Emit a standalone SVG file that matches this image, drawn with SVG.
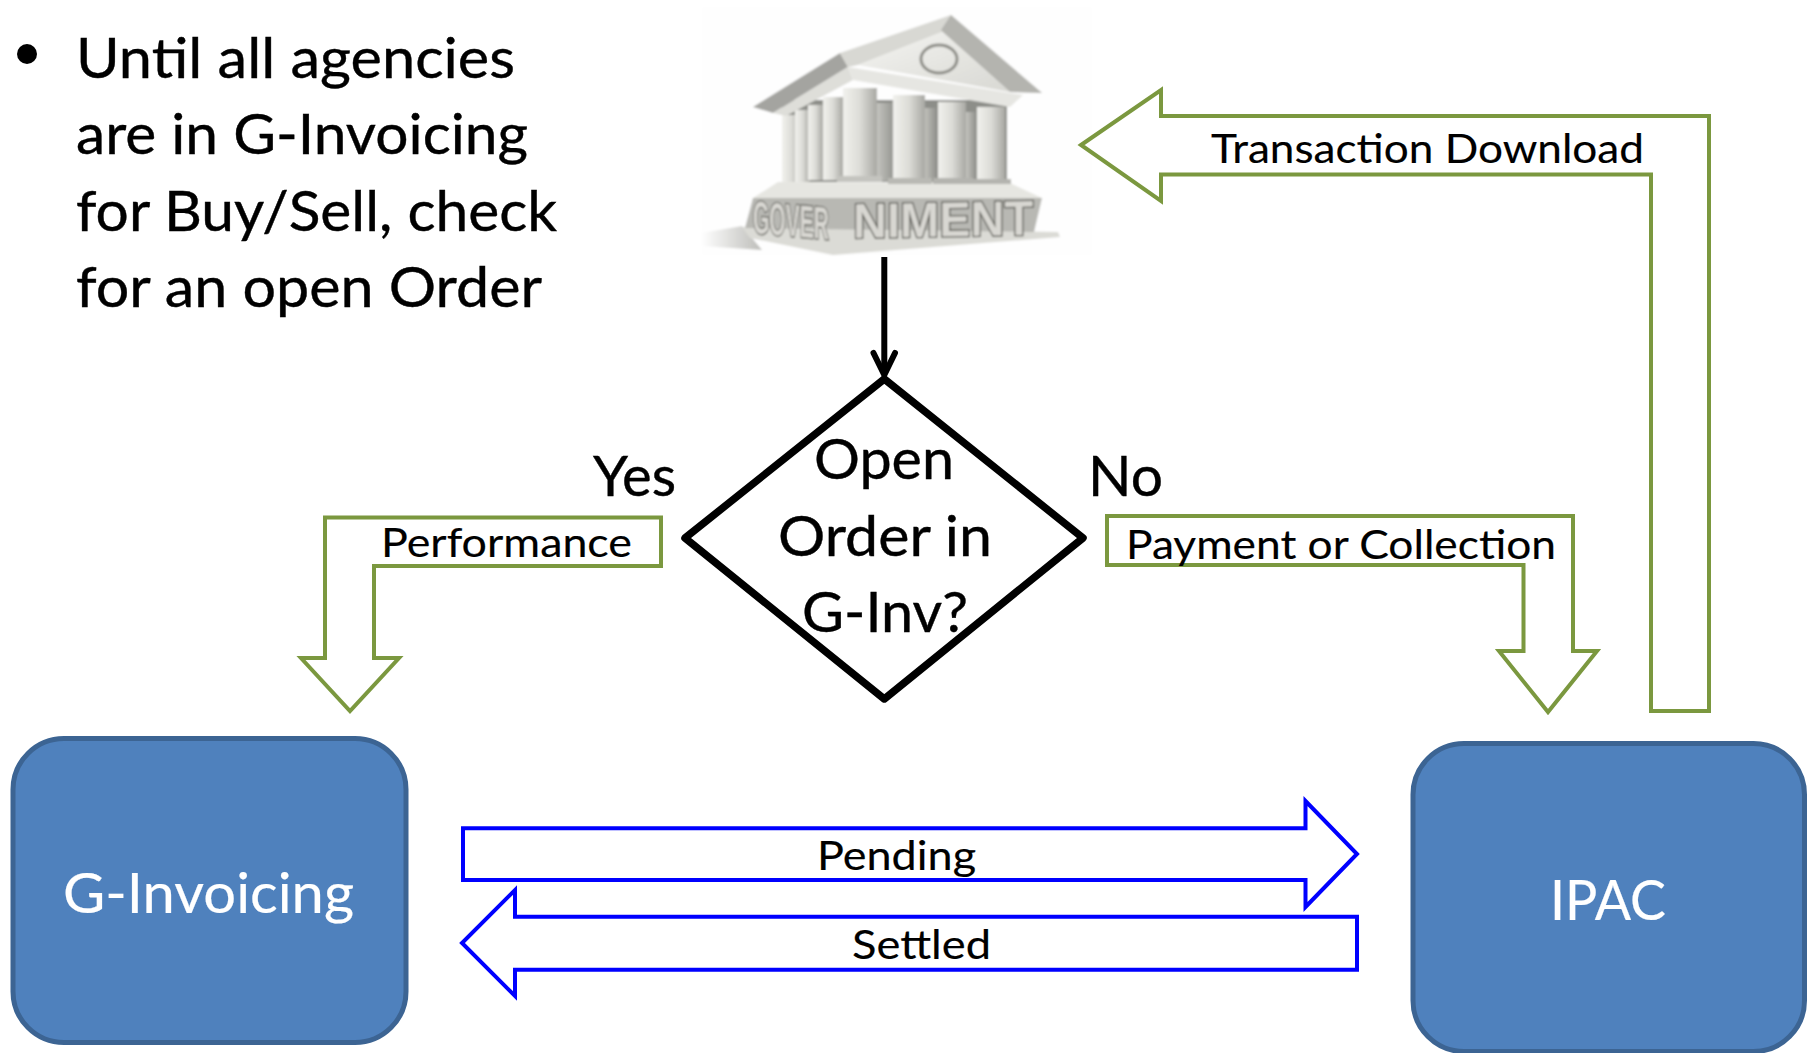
<svg xmlns="http://www.w3.org/2000/svg" width="1815" height="1053" viewBox="0 0 1815 1053">
<style>
text{font-family:"Lato","Liberation Sans",sans-serif;fill:#000;stroke:#000;stroke-width:.4}
.b{font-size:56.5px}
text.s{font-size:41px;stroke-width:.15}
text.w{fill:#fff;stroke:#fff;stroke-width:.2}
.g{fill:#fff;stroke:#7b983f;stroke-width:4}
.u{fill:#fff;stroke:#0000ff;stroke-width:4}
.n{fill:#4f81bd;stroke:#3c6493;stroke-width:5}
text.gv{font-family:"Liberation Sans",sans-serif;font-weight:bold;font-size:50px;fill:#d8d7d2;stroke:#55554f;stroke-width:2.6;paint-order:stroke}
</style>
<defs>
<linearGradient id="col" x1="0" x2="1" y1="0" y2="0"><stop offset="0" stop-color="#f1f1ed"/><stop offset=".5" stop-color="#dcdcd7"/><stop offset="1" stop-color="#a8a8a3"/></linearGradient>
<linearGradient id="cold" x1="0" x2="1" y1="0" y2="0"><stop offset="0" stop-color="#c4c4bf"/><stop offset="1" stop-color="#868782"/></linearGradient>
<linearGradient id="ped" x1="0" x2="1" y1="0" y2="1"><stop offset="0" stop-color="#f4f4f1"/><stop offset="1" stop-color="#d8d8d3"/></linearGradient>
<linearGradient id="sh" x1="0" x2="1" y1="0" y2="0"><stop offset="0" stop-color="#fff"/><stop offset="1" stop-color="#bdbdb9"/></linearGradient>
<filter id="blur"><feGaussianBlur stdDeviation="0.8"/></filter>
</defs>
<rect width="1815" height="1053" fill="#fff"/>

<g id="bullet-text">
<circle cx="27" cy="54" r="10" fill="#000"/>
<text class="b" x="76" y="78" textLength="439" lengthAdjust="spacingAndGlyphs">Until all agencies</text>
<text class="b" x="76" y="154" textLength="452" lengthAdjust="spacingAndGlyphs">are in G-Invoicing</text>
<text class="b" x="76" y="231" textLength="481" lengthAdjust="spacingAndGlyphs">for Buy/Sell, check</text>
<text class="b" x="76" y="307" textLength="466" lengthAdjust="spacingAndGlyphs">for an open Order</text>
</g>

<g id="government" filter="url(#blur)">
<rect x="701" y="6" width="392" height="250" fill="#fefefe"/>
<polygon points="701,233 742,226 762,250 701,246" fill="url(#sh)"/>
<polygon points="742,227 1058,232 1060,237 833,255 750,238" fill="#dbdbd6"/>
<polygon points="753,198 1042,198 1034,232 745,228" fill="#b8b8b3"/>
<polygon points="753,198 778,182 1010,183 1042,198" fill="#e6e6e1"/>
<rect x="782" y="100" width="225" height="82" fill="#8d8e89"/>
<rect x="782" y="115" width="19" height="67" fill="url(#col)"/>
<rect x="795" y="110" width="15" height="72" fill="url(#col)"/>
<rect x="808" y="105" width="15" height="75" fill="url(#col)"/>
<rect x="823" y="97" width="20" height="83" fill="url(#col)"/>
<rect x="877" y="103" width="22" height="78" fill="url(#cold)"/>
<rect x="924" y="108" width="15" height="70" fill="url(#cold)"/>
<rect x="966" y="112" width="12" height="68" fill="url(#cold)"/>
<rect x="843" y="88" width="34" height="92" fill="url(#col)"/>
<rect x="893" y="95" width="32" height="87" fill="url(#col)"/>
<rect x="938" y="102" width="28" height="80" fill="url(#col)"/>
<rect x="977" y="107" width="28" height="76" fill="url(#col)"/>
<rect x="837" y="176" width="45" height="6" fill="#c4c4bf"/>
<rect x="888" y="178" width="44" height="6" fill="#b9b9b4"/>
<rect x="933" y="178" width="40" height="6" fill="#b4b4af"/>
<rect x="973" y="179" width="38" height="5" fill="#b4b4af"/>
<polygon points="753,107 840,53 848,67 773,113" fill="#a4a4a0"/>
<polygon points="773,113 848,67 853,80 786,116" fill="#dedeD9"/>
<polygon points="840,53 951,15 1042,93 1010,92 942,32 858,65 848,67" fill="#d8d8d3"/>
<polygon points="951,15 1042,93 1010,92 941,30" fill="#b4b4af"/>
<polygon points="858,65 942,32 1010,92" fill="url(#ped)"/>
<polygon points="848,67 1023,95 1010,107 853,80" fill="#e6e6e2"/>
<ellipse cx="939" cy="59" rx="18" ry="14" fill="none" stroke="#8e8e88" stroke-width="3"/>
<text class="gv" transform="translate(753,233) skewY(5) scale(.42,.92)">GOVER</text>
<text class="gv" transform="translate(853,238) skewY(-1) scale(.94,.98)">NIMENT</text>
</g>

<g id="connectors">
<line x1="884.3" y1="257" x2="884.3" y2="374" stroke="#000" stroke-width="6"/>
<path d="M873.5,353 L884.3,375 L895,353" fill="none" stroke="#000" stroke-width="6" stroke-linecap="round"/>
<polygon id="transaction-download" class="g" points="1081,145 1161,90 1161,116 1709,116 1709,711 1651,711 1651,174.500 1161,174.500 1161,201"/>
<polygon id="performance" class="g" points="661,517.500 325,517.500 325,658 301,658 350,711 399,658 374,658 374,566 661,566"/>
<polygon id="payment" class="g" points="1107,516 1573,516 1573,651 1597,651 1548,712 1499,651 1523.500,651 1523.500,565 1107,565"/>
<polygon id="pending" class="u" points="463,828.300 1305.500,828.300 1305.500,801 1357,854 1305.500,907 1305.500,880 463,880"/>
<polygon id="settled" class="u" points="1357,916.700 515,916.700 515,890 462,943 515,996 515,969.700 1357,969.700"/>
<text class="s" x="1211" y="163" textLength="433" lengthAdjust="spacingAndGlyphs">Transaction Download</text>
<text class="s" x="381" y="556.500" textLength="251" lengthAdjust="spacingAndGlyphs">Performance</text>
<text class="s" x="1126" y="559" textLength="430" lengthAdjust="spacingAndGlyphs">Payment or Collection</text>
<text class="s" x="817" y="870" textLength="159" lengthAdjust="spacingAndGlyphs">Pending</text>
<text class="s" x="852" y="959" textLength="139" lengthAdjust="spacingAndGlyphs">Settled</text>
<text class="b" x="593" y="496" textLength="83" lengthAdjust="spacingAndGlyphs">Yes</text>
<text class="b" x="1088" y="496" textLength="75" lengthAdjust="spacingAndGlyphs">No</text>
</g>

<g id="decision">
<polygon points="884.300,379 1083,538 884.300,699 685,538" fill="none" stroke="#000" stroke-width="7.500" stroke-linejoin="round"/>
<text class="b" x="814" y="479" textLength="140" lengthAdjust="spacingAndGlyphs">Open</text>
<text class="b" x="778" y="556" textLength="214" lengthAdjust="spacingAndGlyphs">Order in</text>
<text class="b" x="802" y="632" textLength="166" lengthAdjust="spacingAndGlyphs">G-Inv?</text>
</g>

<g id="g-invoicing">
<rect class="n" x="13" y="738.500" width="393" height="304" rx="51" ry="51"/>
<text class="b w" x="63" y="913" textLength="291" lengthAdjust="spacingAndGlyphs">G-Invoicing</text>
</g>
<g id="ipac">
<rect class="n" x="1413" y="743.500" width="391.500" height="308" rx="51" ry="51"/>
<text class="b w" x="1550" y="920" textLength="116" lengthAdjust="spacingAndGlyphs">IPAC</text>
</g>
</svg>
